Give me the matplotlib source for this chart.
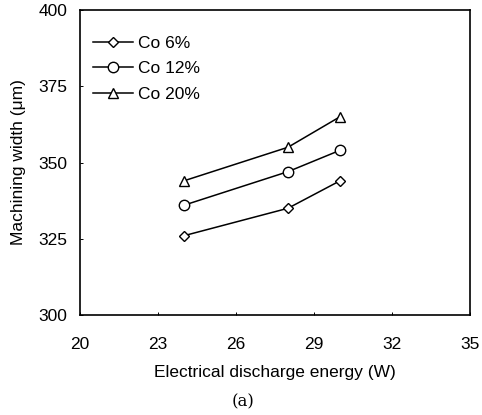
import matplotlib.pyplot as plt

plt.rcParams['font.family'] = ['Liberation Sans', 'DejaVu Sans']

energy = [24, 28, 30]
co6 = [326, 335, 344]
co12 = [336, 347, 354]
co20 = [344, 355, 365]

xticks = [20, 23, 26, 29, 32, 35]
yticks = [300, 325, 350, 375, 400]

fig = plt.figure(figsize=(4.82, 4.15), dpi=100)
ax = fig.add_axes([80/482, 1 - 315/415, 390/482, 305/415])

ax.plot(energy, co6, '-', color='black', lw=1.1, marker='D', ms=5,
        mfc='white', mec='black', mew=1.0, label='Co 6%')
ax.plot(energy, co12, '-', color='black', lw=1.1, marker='o', ms=7.5,
        mfc='white', mec='black', mew=1.0, label='Co 12%')
ax.plot(energy, co20, '-', color='black', lw=1.1, marker='^', ms=7.5,
        mfc='white', mec='black', mew=1.0, label='Co 20%')

ax.set_xlim(20, 35)
ax.set_ylim(300, 400)
ax.set_xticks(xticks)
ax.set_yticks(yticks)
ax.tick_params(direction='in', length=2.5, width=0.7, labelsize=12.5)
ax.tick_params(axis='x', pad=15.5)
ax.tick_params(axis='y', pad=9)
for s in ax.spines.values():
    s.set_linewidth(1.2)

ax.set_xlabel('Electrical discharge energy (W)', fontsize=12.5, labelpad=9.5)
ax.set_ylabel('Machining width (\u03bcm)', fontsize=12.5, labelpad=9)

leg = ax.legend(loc='upper left', bbox_to_anchor=(93/482, 1 - 36/415),
                bbox_transform=fig.transFigure, frameon=False, fontsize=12.5,
                handlelength=2.3, handletextpad=0.3, labelspacing=0.58,
                borderaxespad=0, borderpad=0)

fig.text(243/482, 1 - 402/415, '(a)', fontsize=12, family='DejaVu Serif',
         ha='center', va='center')

fig.savefig('out.png', dpi=100)
